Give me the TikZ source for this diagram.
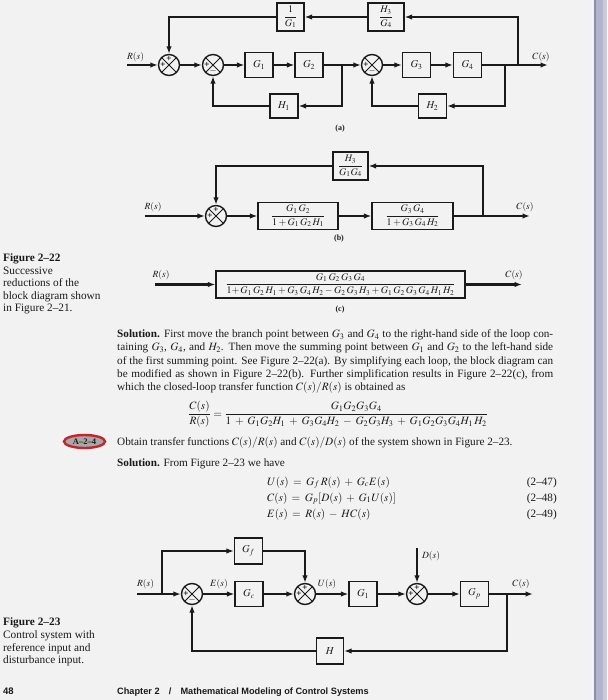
\documentclass[tikz,border=0pt]{standalone}
\usepackage{amsmath}
\usepackage{mathptmx}
\usepackage[no-math]{fontspec}
\setmainfont{Liberation Serif}
\newfontfamily\hsans{Liberation Sans}
\usetikzlibrary{arrows.meta,calc,shapes.geometric}
\definecolor{bgc}{HTML}{F2F2F2}
\definecolor{ink}{HTML}{1A1A1A}
\definecolor{stripeA}{HTML}{8F8FA3}
\definecolor{stripeB}{HTML}{B4B3CE}
\definecolor{stripeC}{HTML}{CBCADB}
\definecolor{badge}{HTML}{C4252C}
\definecolor{badgefill}{HTML}{A8A8A8}
\newcommand{\tline}[1]{\makebox[436pt][s]{#1}}
\begin{document}
\begin{tikzpicture}[x=1pt,y=-1pt,color=ink,
 blk/.style={draw, line width=1.3pt, minimum width=28pt, minimum height=25pt, inner sep=1pt, font=\fontsize{10.5}{12}\selectfont},
 fblk/.style={draw, line width=1.3pt, minimum height=28pt, inner sep=1pt, font=\fontsize{10}{11}\selectfont},
 sumj/.style={circle, draw, line width=1.4pt, minimum size=21pt, inner sep=0pt,
   path picture={\draw[line width=0.9pt] (path picture bounding box.north west) -- (path picture bounding box.south east)
      (path picture bounding box.north east) -- (path picture bounding box.south west);}},
 sig/.style={line width=2.2pt, -{Latex[length=7.5pt,width=5.5pt]}},
 lab/.style={font=\fontsize{9.5}{10}\selectfont, inner sep=0pt},
 sgn/.style={font=\fontsize{9}{9}\selectfont\bfseries, inner sep=0pt, text=black},
 subcap/.style={font=\fontsize{8}{9}\selectfont\bfseries, inner sep=0pt},
 txt/.style={anchor=base west, inner sep=0pt, font=\fontsize{11.2}{13.5}\selectfont},
 mtxt/.style={anchor=base west, inner sep=0pt, font=\fontsize{11.3}{12.5}\selectfont}
]
\useasboundingbox (0,0) rectangle (607,700);
\fill[bgc] (0,0) rectangle (607,700);
\fill[stripeA] (594,0) rectangle (596,700);
\fill[stripeB] (596,0) rectangle (603,700);
\fill[stripeC] (603,0) rectangle (607,700);

% ---------------- (a) ----------------
\node[sumj] (s1) at (169,65) {};
\node[sumj] (s2) at (213,65) {};
\node[blk] (G1) at (259,65) {$G_1$};
\node[blk] (G2) at (309,65) {$G_2$};
\node[sumj] (s3) at (372,65) {};
\node[blk] (G3) at (416.5,65) {$G_3$};
\node[blk] (G4) at (467.5,65) {$G_4$};
\node[blk, minimum height=24pt] (H1) at (284,106) {$H_1$};
\node[blk, minimum height=24pt] (H2) at (432.5,106) {$H_2$};
\node[fblk, minimum width=27pt] (iG1) at (290.5,17) {$\dfrac{1}{G_1}$};
\node[fblk, minimum width=36pt] (H3G4) at (386,17) {$\dfrac{H_3}{G_4}$};
\coordinate (ra) at (127,65);
\coordinate (ca) at (548,65);
\coordinate (b1) at (342,65);
\coordinate (b2) at (505,65);
\coordinate (b3) at (518,65);
\node[lab] at (135.5,57) {$R(s)$};
\node[lab] at (541,57) {$C(s)$};
\node[subcap] at (340,129) {(a)};
\draw[sig] (ra) -- (s1);
\draw[sig] (s1) -- (s2);
\draw[sig] (s2) -- (G1);
\draw[sig] (G1) -- (G2);
\draw[sig] (G2) -- (s3);
\draw[sig] (s3) -- (G3);
\draw[sig] (G3) -- (G4);
\draw[sig] (G4) -- (ca);
\draw[sig] (b1) |- (H1);
\draw[sig] (H1) -| (s2);
\draw[sig] (b2) |- (H2);
\draw[sig] (H2) -| (s3);
\draw[sig] (b3) |- (H3G4);
\draw[sig] (H3G4) -- (iG1);
\draw[sig] (iG1) -| (s1);
\node[sgn] (s1t) at ($(s1)+(0,-6)$) {+};
\node[sgn] (s1l) at ($(s1)+(-6,0)$) {+};
\node[sgn] (s2l) at ($(s2)+(-6,0)$) {+};
\node[sgn] (s2b) at ($(s2)+(0,6)$) {$-$};
\node[sgn] (s3l) at ($(s3)+(-6,0)$) {+};
\node[sgn] (s3b) at ($(s3)+(0,6)$) {$-$};

% ---------------- (b) ----------------
\node[sumj] (sb) at (216,216) {};
\node[fblk, minimum width=80pt, minimum height=27pt] (B1) at (298,216) {$\dfrac{G_1\,G_2}{1+G_1\,G_2\,H_1}$};
\node[fblk, minimum width=81pt, minimum height=27pt] (B2) at (412.5,216) {$\dfrac{G_3\,G_4}{1+G_3\,G_4\,H_2}$};
\node[fblk, minimum width=35pt] (Hb) at (350.5,166) {$\dfrac{H_3}{G_1G_4}$};
\coordinate (rb) at (145,216);
\coordinate (cb) at (530,216);
\coordinate (bb) at (483,216);
\node[lab] at (153,207) {$R(s)$};
\node[lab] at (525,207) {$C(s)$};
\node[subcap] at (339,239) {(b)};
\draw[sig] (rb) -- (sb);
\draw[sig] (sb) -- (B1);
\draw[sig] (B1) -- (B2);
\draw[sig] (B2) -- (cb);
\draw[sig] (bb) |- (Hb);
\draw[sig] (Hb) -| (sb);
\node[sgn] (sbt) at ($(sb)+(0,-6)$) {+};
\node[sgn] (sbl) at ($(sb)+(-6,0)$) {+};

% ---------------- (c) ----------------
\node[draw, line width=1.3pt, minimum width=249pt, minimum height=27pt, inner sep=1pt, font=\fontsize{10}{11}\selectfont] (Bc) at (340.5,284.5)
 {$\dfrac{G_1\,G_2\,G_3\,G_4}{1{+}\,G_1\,G_2\,H_1+G_3\,G_4\,H_2-G_2\,G_3\,H_3+G_1\,G_2\,G_3\,G_4\,H_1\,H_2}$};
\coordinate (rc) at (155,284.5);
\coordinate (cc) at (522,284.5);
\node[lab] at (161,275) {$R(s)$};
\node[lab] at (514,275) {$C(s)$};
\node[subcap] at (340,310) {(c)};
\draw[sig] (rc) -- (Bc);
\draw[sig] (Bc) -- (cc);

% ---------------- margin captions ----------------
\node[mtxt] at (3,261.5) {\textbf{Figure 2--22}};
\node[mtxt] at (3,274) {Successive};
\node[mtxt] at (3,286.5) {reductions of the};
\node[mtxt] at (3,299) {block diagram shown};
\node[mtxt] at (3,311.5) {in Figure 2--21.};

\node[mtxt] at (3,625.5) {\textbf{Figure 2--23}};
\node[mtxt] at (3,638.5) {Control system with};
\node[mtxt] at (3,651) {reference input and};
\node[mtxt] at (3,663.5) {disturbance input.};

% ---------------- body text ----------------
\node[txt] at (117,337.5) {\tline{\textbf{Solution.} First move the branch point between $G_3$ and $G_4$ to the right-hand side of the loop con-}};
\node[txt] at (117,350.7) {\tline{taining $G_3$, $G_4$, and $H_2$. Then move the summing point between $G_1$ and $G_2$ to the left-hand side}};
\node[txt] at (117,364) {\tline{of the first summing point. See Figure 2--22(a). By simplifying each loop, the block diagram can}};
\node[txt] at (117,377.2) {\tline{be modified as shown in Figure 2--22(b). Further simplification results in Figure 2--22(c), from}};
\node[txt] at (117,390.3) {which the closed-loop transfer function $C(s)/R(s)$ is obtained as};

\node[anchor=west, inner sep=0pt, font=\fontsize{11.2}{13}\selectfont] (eqa) at (188,414.5)
 {\medmuskip=6mu $\displaystyle\frac{C(s)}{R(s)} = \frac{G_1G_2G_3G_4}{1 + G_1G_2H_1 + G_3G_4H_2 - G_2G_3H_3 + G_1G_2G_3G_4H_1\,H_2}$};

\node[draw=badge, fill=badgefill, line width=2.4pt, ellipse, minimum width=41pt, minimum height=13pt, inner sep=0pt, font=\fontsize{8.5}{9}\selectfont\bfseries] (badge) at (84.5,441.5) {A--2--4};
\node[txt] at (117,445) {Obtain transfer functions $C(s)/R(s)$ and $C(s)/D(s)$ of the system shown in Figure 2--23.};
\node[txt] at (117,466.5) {\textbf{Solution.} From Figure 2--23 we have};

\node[txt] at (267,485) {\thickmuskip=7mu \medmuskip=6mu $U(s) = G_f\,R(s) + G_cE(s)$};
\node[txt] at (267,501) {\thickmuskip=7mu \medmuskip=6mu $C(s) = G_p[D(s) + G_1U(s)]$};
\node[txt] at (267,517.5) {\thickmuskip=7mu \medmuskip=6mu $E(s) = R(s) - HC(s)$};
\node[txt, anchor=base east] at (557,485) {(2--47)};
\node[txt, anchor=base east] at (557,501) {(2--48)};
\node[txt, anchor=base east] at (557,517.5) {(2--49)};

% ---------------- Figure 2-23 ----------------
\node[sumj] (t1) at (192,594) {};
\node[blk] (Gc) at (249,594) {$G_c$};
\node[sumj] (t2) at (305,594) {};
\node[blk] (Gq) at (363,594) {$G_1$};
\node[sumj] (t3) at (417,594) {};
\node[blk] (Gp) at (474.5,594) {$G_p$};
\node[blk, minimum height=26pt] (Gf) at (248.5,551) {$G_f$};
\node[blk, minimum width=27pt, minimum height=26pt] (Hd) at (330,651) {$H$};
\coordinate (rin) at (137,594);
\coordinate (brr) at (162,594);
\coordinate (cout) at (533,594);
\coordinate (brc) at (507,594);
\coordinate (din) at (417,548);
\node[lab] at (145.5,584) {$R(s)$};
\node[lab] at (219,584) {$E(s)$};
\node[lab] at (327,584) {$U(s)$};
\node[lab] at (431,556) {$D(s)$};
\node[lab] at (521,584) {$C(s)$};
\draw[sig] (rin) -- (t1);
\draw[sig] (brr) |- (Gf);
\draw[sig] (Gf) -| (t2);
\draw[sig] (t1) -- (Gc);
\draw[sig] (Gc) -- (t2);
\draw[sig] (t2) -- (Gq);
\draw[sig] (Gq) -- (t3);
\draw[sig] (din) -- (t3);
\draw[sig] (t3) -- (Gp);
\draw[sig] (Gp) -- (cout);
\draw[sig] (brc) |- (Hd);
\draw[sig] (Hd) -| (t1);
\node[sgn] (t1l) at ($(t1)+(-6,0)$) {+};
\node[sgn] (t1b) at ($(t1)+(0,6)$) {$-$};
\node[sgn] (t2t) at ($(t2)+(0,-6)$) {+};
\node[sgn] (t2l) at ($(t2)+(-6,0)$) {+};
\node[sgn] (t3t) at ($(t3)+(0,-6)$) {+};
\node[sgn] (t3l) at ($(t3)+(-6,0)$) {+};

% ---------------- footer ----------------
\node[anchor=base west, inner sep=0pt, font=\hsans\bfseries\fontsize{9.5}{10}\selectfont] at (3,694) {48};
\node[anchor=base west, inner sep=0pt, font=\hsans\bfseries\fontsize{9.2}{10}\selectfont] at (117,694) {Chapter 2\quad/\quad Mathematical Modeling of Control Systems};
\end{tikzpicture}
\end{document}
